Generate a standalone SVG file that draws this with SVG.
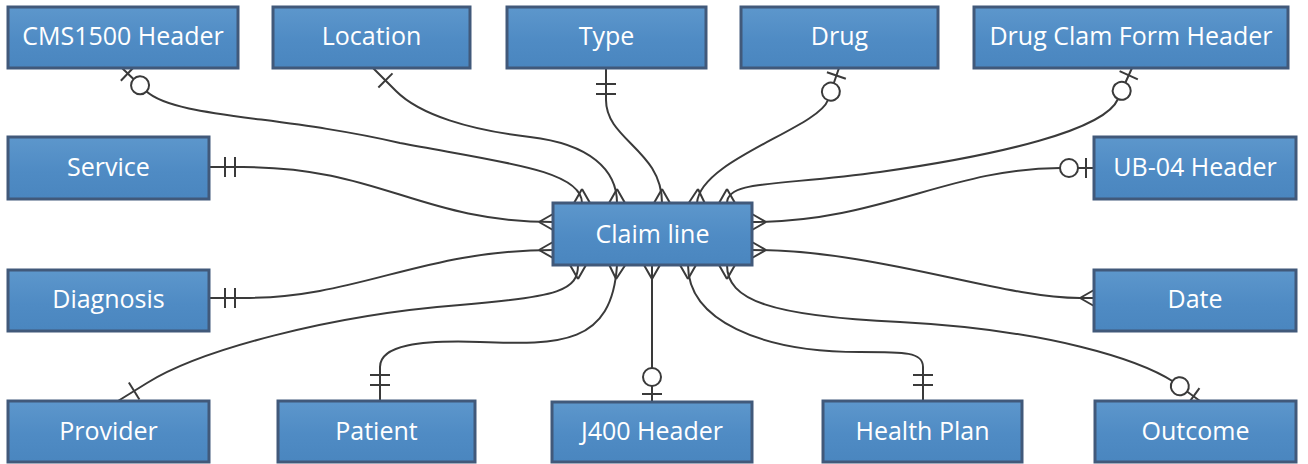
<svg xmlns="http://www.w3.org/2000/svg" width="1308" height="464" viewBox="0 0 1308 464">
<style>
.box{fill:url(#bg);stroke:#41597a;stroke-width:3}
.lbl{fill:#ffffff;font-family:"Open Sans","Liberation Sans",sans-serif;font-size:25px;text-anchor:middle}
.cn{fill:none;stroke:#3a3a3a;stroke-width:2;marker-end:url(#many)}
.mk{fill:none;stroke:#3a3a3a;stroke-width:2}
.mkc{fill:#ffffff;stroke:#3a3a3a;stroke-width:2}
.zo{marker-start:url(#zeroOne)}
.oo{marker-start:url(#oneOnly)}
.one{marker-start:url(#one)}
.mm{marker-start:url(#many)}
</style>
<defs>
<linearGradient id="bg" x1="0" y1="0" x2="0" y2="1">
<stop offset="0" stop-color="#5d97cc"/>
<stop offset="0.55" stop-color="#4f8bc4"/>
<stop offset="1" stop-color="#4a86bf"/>
</linearGradient>
<marker id="many" markerUnits="userSpaceOnUse" markerWidth="30" markerHeight="30" refX="0" refY="0" orient="auto-start-reverse" style="overflow:visible">
<path class="mk" d="M-14,0 L0,-8 M-14,0 L0,8"/>
</marker>
<marker id="zeroOne" markerUnits="userSpaceOnUse" markerWidth="40" markerHeight="30" refX="0" refY="0" orient="auto" style="overflow:visible">
<path class="mk" d="M8,-10 L8,10"/>
<circle class="mkc" cx="25" cy="0" r="9"/>
</marker>
<marker id="oneOnly" markerUnits="userSpaceOnUse" markerWidth="40" markerHeight="30" refX="0" refY="0" orient="auto" style="overflow:visible">
<path class="mk" d="M16,-10 L16,10 M26,-10 L26,10"/>
</marker>
<marker id="one" markerUnits="userSpaceOnUse" markerWidth="40" markerHeight="30" refX="0" refY="0" orient="auto" style="overflow:visible">
<path class="mk" d="M19,-10 L19,10"/>
</marker>
</defs>

<g id="connectors">
<path class="cn zo" d="M122,68 L146,91 C175,118 280,115 400,143 C500,162 582,170 582,203"/>
<path class="cn one" d="M372,67 L396,91 C420,115 470,130 530,137 C590,144 617,170 617,203"/>
<path class="cn oo" d="M606,68 L606,100 C606,140 662,150 662,203"/>
<path class="cn zo" d="M839,68 L828,100 C818,128 700,160 697,203"/>
<path class="cn zo" d="M1132,68 L1118,99 C1105,130 1000,155 880,172 C780,186 727,180 727,203"/>
<path class="cn oo" d="M209,167 L243,167 C380,167 420,222 553,222"/>
<path class="cn zo" d="M1094,168 L1060,168 C950,168 880,222 752,222"/>
<path class="cn oo" d="M209,298 L243,298 C360,298 420,250 553,250"/>
<path class="cn mm" d="M1094,298 L1080,298 C1000,298 880,250 752,250"/>
<path class="cn one" d="M118,401 L147,383 C200,350 330,315 460,305 C560,297 578,290 578,265"/>
<path class="cn oo" d="M380,401 L380,367 C380,345 420,340 480,342 C560,345 612,345 617,265"/>
<path class="cn zo" d="M652,402 L652,265"/>
<path class="cn oo" d="M923,401 L923,367 C923,352 905,352 860,352 C760,352 688,320 688,265"/>
<path class="cn zo" d="M1200,401 L1174,382 C1140,360 1050,330 900,322 C770,316 727,300 727,265"/>
</g>

<g id="claim-line"><rect class="box" x="553" y="203" width="199" height="62"/><text class="lbl" x="652.5" y="243">Claim line</text></g>

<g id="cms1500-header"><rect class="box" x="8" y="7" width="230" height="61"/><text class="lbl" x="123" y="45">CMS1500 Header</text></g>
<g id="location"><rect class="box" x="273" y="7" width="197" height="61"/><text class="lbl" x="371.5" y="45">Location</text></g>
<g id="type"><rect class="box" x="507" y="7" width="199" height="61"/><text class="lbl" x="606.5" y="45">Type</text></g>
<g id="drug"><rect class="box" x="741" y="7" width="197" height="61"/><text class="lbl" x="839.5" y="45">Drug</text></g>
<g id="drug-clam-form-header"><rect class="box" x="974" y="7" width="314" height="61"/><text class="lbl" x="1131" y="45">Drug Clam Form Header</text></g>

<g id="service"><rect class="box" x="8" y="137" width="201" height="62"/><text class="lbl" x="108.5" y="176">Service</text></g>
<g id="ub04-header"><rect class="box" x="1094" y="137" width="202" height="62"/><text class="lbl" x="1195" y="176">UB-04 Header</text></g>
<g id="diagnosis"><rect class="box" x="8" y="270" width="201" height="61"/><text class="lbl" x="108.5" y="308">Diagnosis</text></g>
<g id="date"><rect class="box" x="1094" y="270" width="202" height="61"/><text class="lbl" x="1195" y="308">Date</text></g>

<g id="provider"><rect class="box" x="8" y="401" width="201" height="61"/><text class="lbl" x="108.5" y="440">Provider</text></g>
<g id="patient"><rect class="box" x="278" y="401" width="197" height="61"/><text class="lbl" x="376.5" y="440">Patient</text></g>
<g id="j400-header"><rect class="box" x="552" y="402" width="200" height="60"/><text class="lbl" x="652" y="440">J400 Header</text></g>
<g id="health-plan"><rect class="box" x="823" y="401" width="199" height="61"/><text class="lbl" x="922.5" y="440">Health Plan</text></g>
<g id="outcome"><rect class="box" x="1095" y="401" width="201" height="61"/><text class="lbl" x="1195.5" y="440">Outcome</text></g>
</svg>
